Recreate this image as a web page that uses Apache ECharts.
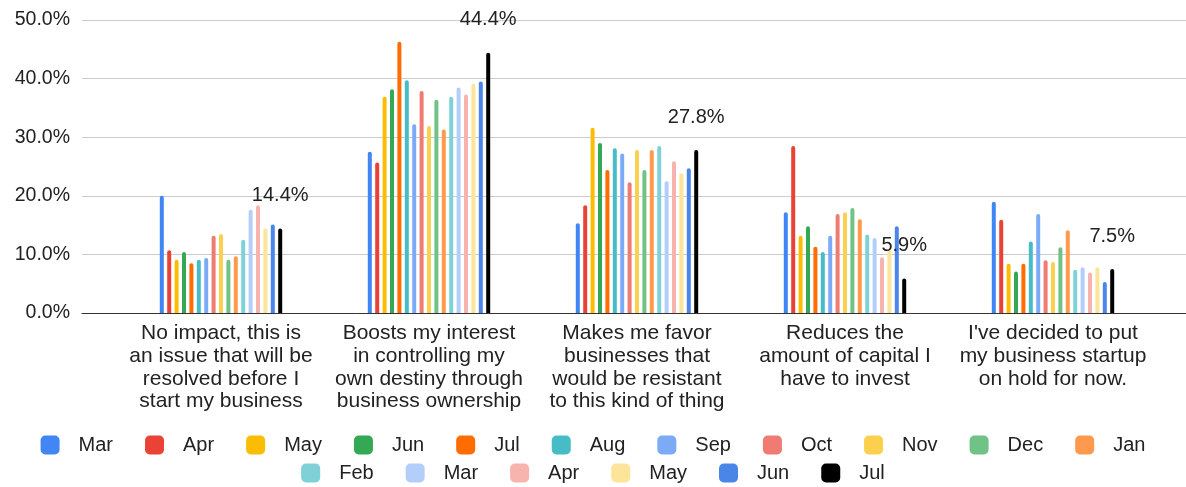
<!DOCTYPE html>
<html>
<head>
<meta charset="utf-8">
<script src="https://cdn.jsdelivr.net/npm/echarts@6/dist/echarts.min.js"></script>
<style>
html,body{margin:0;padding:0;background:#fff;}
#chart{width:1186px;height:487px;}
</style>
</head>
<body>
<div id="chart"></div>
<script>
const categories = [
  "No impact, this is\nan issue that will be\nresolved before I\nstart my business",
  "Boosts my interest\nin controlling my\nown destiny through\nbusiness ownership",
  "Makes me favor\nbusinesses that\nwould be resistant\nto this kind of thing",
  "Reduces the\namount of capital I\nhave to invest",
  "I've decided to put\nmy business startup\non hold for now."
];
const months = ["Mar","Apr","May","Jun","Jul","Aug","Sep","Oct","Nov","Dec","Jan","Feb","Mar","Apr","May","Jun","Jul"];
const colors = ["#4285F4","#EA4335","#FBBC04","#34A853","#FF6D01","#46BDC6","#7BAAF7","#F07B72","#FCD04F","#71C287","#FF994D","#7ED1D7","#B3CEFB","#F7B4AE","#FDE49B","#4A86E8","#000000"];
const vMar1 = [20.0, 27.5, 15.3, 17.2, 19.0];
const vApr1 = [10.7, 25.7, 18.4, 28.5, 15.9];
const vMay1 = [9.1, 36.9, 31.6, 13.2, 8.4];
const vJun1 = [10.4, 38.2, 29.0, 14.8, 7.1];
const vJul1 = [8.5, 46.3, 24.4, 11.3, 8.4];
const vAug = [9.1, 39.7, 28.1, 10.4, 12.2];
const vSep = [9.4, 32.2, 27.2, 13.2, 16.9];
const vOct = [13.2, 37.9, 22.3, 16.9, 9.0];
const vNov = [13.5, 31.9, 27.8, 17.2, 8.7];
const vDec = [9.1, 36.4, 24.4, 17.9, 11.2];
const vJan = [9.7, 31.3, 27.8, 16.0, 14.1];
const vFeb = [12.5, 36.9, 28.5, 13.4, 7.4];
const vMar2 = [17.6, 38.5, 22.5, 12.8, 7.8];
const vApr2 = [18.4, 37.3, 25.9, 9.5, 6.9];
const vMay2 = [14.4, 39.1, 23.8, 10.7, 7.8];
const vJun2 = [15.1, 39.5, 24.7, 14.8, 5.3];
const vJul2 = [14.4, 44.4, 27.8, 5.9, 7.5];
const yTicks = [0, 10, 20, 30, 40, 50];

const allValues = [vMar1,vApr1,vMay1,vJun1,vJul1,vAug,vSep,vOct,vNov,vDec,vJan,vFeb,vMar2,vApr2,vMay2,vJun2,vJul2];
// unique internal names (repeat months get trailing spaces, trimmed in the legend)
const seen = {};
const names = months.map(m => { seen[m] = (seen[m] || 0) + 1; return m + ' '.repeat(seen[m] - 1); });

const FONT = '"Liberation Sans", Arial, sans-serif';
const TXT = '#222';

const series = allValues.map((vals, i) => ({
  name: names[i],
  type: 'bar',
  xAxisIndex: 1,
  yAxisIndex: 1,
  data: vals,
  barWidth: 4,
  barGap: '85%',
  itemStyle: { color: colors[i], borderRadius: [2, 2, 0, 0] },
  label: i === allValues.length - 1 ? {
    show: true, position: 'top', distance: 23,
    formatter: p => p.value.toFixed(1) + '%',
    fontFamily: FONT, fontSize: 20, color: TXT
  } : { show: false },
  animation: false
}));

const legendCommon = {
  icon: 'roundRect', itemWidth: 19, itemHeight: 19, itemGap: 32,
  left: 'center',
  formatter: n => n.trim(),
  textStyle: { fontFamily: FONT, fontSize: 20, color: TXT, padding: [0, 0, 0, 14] },
  selectedMode: false
};

const option = {
  backgroundColor: '#fff',
  color: colors,
  animation: false,
  grid: [
    { left: 82, right: 0, top: 20, bottom: 174, containLabel: false },
    { left: 117, width: 1040, top: 20, bottom: 174, containLabel: false }
  ],
  legend: [
    Object.assign({}, legendCommon, { data: names.slice(0, 11), top: 430 }),
    Object.assign({}, legendCommon, { data: names.slice(11), top: 458 })
  ],
  xAxis: [
    { gridIndex: 0, type: 'category', data: [''],
      axisLine: { show: true, lineStyle: { color: '#333', width: 1 } },
      axisTick: { show: false }, axisLabel: { show: false }, splitLine: { show: false } },
    { gridIndex: 1, type: 'category', data: categories,
      axisLine: { show: false }, axisTick: { show: false },
      axisLabel: { interval: 0, margin: 9, fontFamily: FONT, fontSize: 21, color: TXT, lineHeight: 22.7, align: 'center' } }
  ],
  yAxis: [
    { gridIndex: 0, type: 'value', min: yTicks[0], max: yTicks[yTicks.length - 1], interval: 10,
      axisLine: { show: false }, axisTick: { show: false },
      axisLabel: { margin: 12, fontFamily: FONT, fontSize: 19.5, color: TXT, formatter: v => v.toFixed(1) + '%' },
      splitLine: { lineStyle: { color: '#cccccc', width: 1 } } },
    { gridIndex: 1, type: 'value', min: yTicks[0], max: yTicks[yTicks.length - 1], interval: 10, show: false,
      splitLine: { show: false } }
  ],
  series: series
};

const chart = echarts.init(document.getElementById('chart'), null, { renderer: 'canvas' });
chart.setOption(option);
</script>
</body>
</html>
